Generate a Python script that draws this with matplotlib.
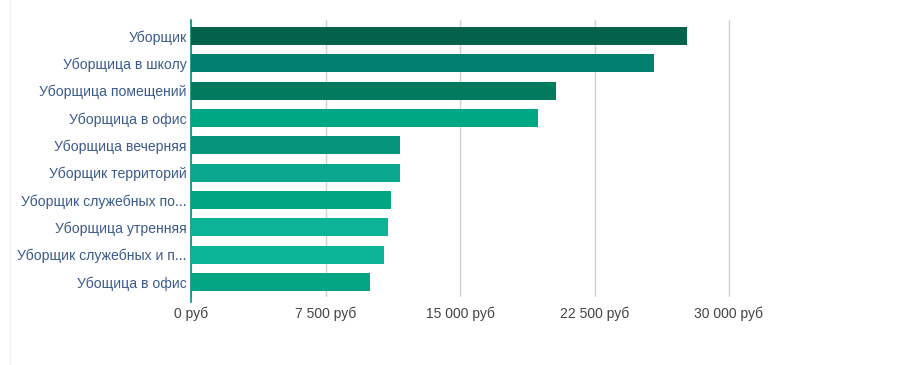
import matplotlib
matplotlib.use("Agg")
import matplotlib.pyplot as plt
from matplotlib.lines import Line2D

categories = ["Уборщик", "Уборщица в школу", "Уборщица помещений", "Уборщица в офис",
              "Уборщица вечерняя", "Уборщик территорий", "Уборщик служебных по...",
              "Уборщица утренняя", "Уборщик служебных и п...", "Убощица в офис"]
values = [27650, 25800, 20350, 19350, 11650, 11650, 11150, 10980, 10750, 9980]
colors = ["#04614b", "#007f6e", "#027a5e", "#00a784", "#06957c",
          "#0aa88d", "#00a582", "#0cb394", "#0ab696", "#03a583"]
xticks = [0, 7500, 15000, 22500, 30000]
xticklabels = ["0 руб", "7 500 руб", "15 000 руб", "22 500 руб", "30 000 руб"]

plt.rcParams['font.family'] = ['Liberation Sans', 'DejaVu Sans']
W, H = 900, 365
fig = plt.figure(figsize=(W/100, H/100), dpi=100)
fig.patch.set_facecolor("white")
xmax = 31000
left, top, bottom = 191, 20, 297
right = left + 538 * xmax / 30000
ax = fig.add_axes([left/W, 1-bottom/H, (right-left)/W, (bottom-top)/H])

y = list(range(len(categories)))
ax.barh(y, values, height=0.66, color=colors, zorder=3)
ax.set_ylim(9.55, -0.585)
ax.set_xlim(0, xmax)
ax.set_yticks(y)
ax.set_yticklabels(categories, fontsize=10.1, color="#3b5a8c")
ax.set_xticks(xticks)
ax.set_xticklabels(xticklabels, fontsize=10, color="#444444")
ax.tick_params(axis='y', length=0, pad=3)
ax.tick_params(axis='x', length=0, pad=7)
ax.grid(axis='x', color="#d0d0d0", linewidth=1, zorder=0)
for s in ["top", "right", "bottom"]:
    ax.spines[s].set_visible(False)
ax.spines["left"].set_color("#0a8a78")
ax.spines["left"].set_linewidth(1.2)
ax.spines["left"].set_bounds(9.75, -0.585)

fig.add_artist(Line2D([10/W, 10/W], [0, 1], color="#f3f3f3", linewidth=1))
fig.savefig("out.png", dpi=100, facecolor="white")
